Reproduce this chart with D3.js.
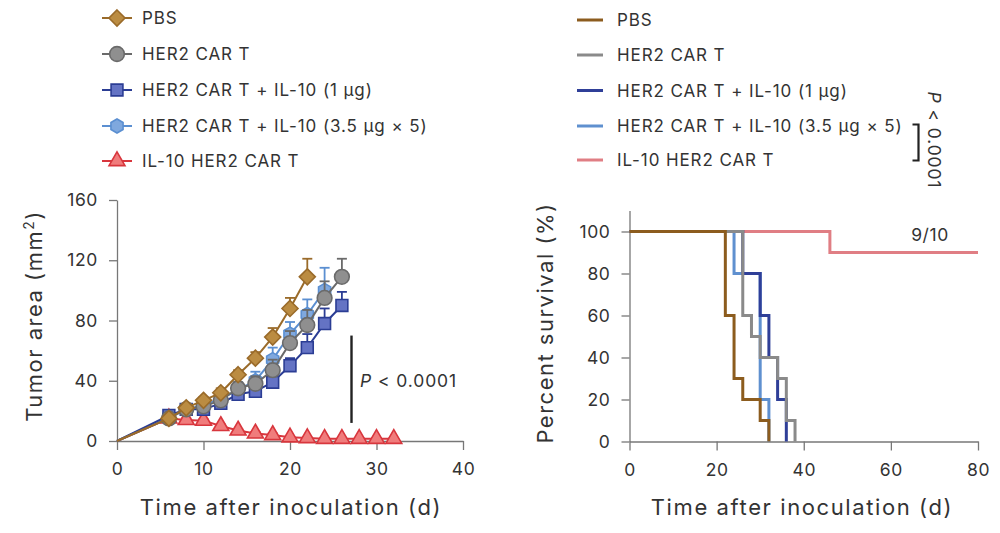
<!DOCTYPE html>
<html><head><meta charset="utf-8">
<script src="https://cdn.jsdelivr.net/npm/d3@7"></script>
<style>body{margin:0;background:#fff;} text{font-family:Inter,"Noto Sans",sans-serif;fill:#333;}</style>
</head><body>
<svg id="c" width="1000" height="533"></svg>
<script>
// ---------- data ----------
const seriesNames = ["PBS","HER2 CAR T","HER2 CAR T + IL-10 (1 µg)","HER2 CAR T + IL-10 (3.5 µg × 5)","IL-10 HER2 CAR T"];
const pbsDays = [6,8,10,12,14,16,18,20,22];
const pbsMean = [15,22,27,32,44,55,69,88,109];
const pbsErr  = [1,2,2,3,3,4,6,7,12];
const carDays = [6,8,10,12,14,16,18,20,22,24,26];
const carMean = [15,21,23,27,35,38,47,65,77,95,109];
const carErr  = [1,2,2,3,4,5,7,8,10,11,12];
const il1Days = [6,8,10,12,14,16,18,20,22,24,26];
const il1Mean = [17,21,21,25,31,33,39,50,62,78,90];
const il1Err  = [1,2,2,2,3,3,4,5,9,10,9];
const il35Days = [6,8,10,12,14,16,18,20,22,24];
const il35Mean = [16,21,24,28,34,40,54,71,84,100];
const il35Err  = [1,2,2,3,5,6,8,8,10,15];
const redDays = [6,8,10,12,14,16,18,20,22,24,26,28,30,32];
const redMean = [15,14,13.5,10,7,5,4,2.5,2,1.5,1.5,1.5,1.5,1.5];
const redErr  = [1,1,1,1,1,1,1,0.5,0.5,0.5,0.5,0.5,0.5,0.5];

const leftXTicks = [0,10,20,30,40];
const leftYTicks = [0,40,80,120,160];
const rightXTicks = [0,20,40,60,80];
const rightYTicks = [0,20,40,60,80,100];

const survPbsT = [0,22,24,26,30,32],    survPbsV = [100,60,30,20,10,0];
const survCarT = [0,26,28,30,34,36,38], survCarV = [100,60,50,40,30,10,0];
const survIl1T = [0,26,30,32,34,36],    survIl1V = [100,80,60,40,20,0];
const survIl35T = [0,24,30,32],         survIl35V = [100,80,20,0];
const survRedT = [0,46,80],             survRedV = [100,90,90];

// ---------- styles ----------
const styles = [
  {stroke:"#9a6b2a", fill:"#bb8c42", sym:"diamond", size:8, surv:"#8c5c1e"},
  {stroke:"#6a6a6a", fill:"#8f8f8f", sym:d3.symbolCircle, size:170, surv:"#8a8a8a"},
  {stroke:"#2b3d94", fill:"#6473c4", sym:d3.symbolSquare, size:140, surv:"#2f3f98"},
  {stroke:"#5b8fd1", fill:"#7fa8de", sym:"hex", size:7, surv:"#5f90cf"},
  {stroke:"#d8363d", fill:"#f07c7c", sym:d3.symbolTriangle, size:110, surv:"#e07e84"}
];
function hexPath(r){const p=[];for(let i=0;i<6;i++){const a=Math.PI/6+i*Math.PI/3;p.push([r*Math.cos(a),r*Math.sin(a)]);}return "M"+p.map(q=>q.join(",")).join("L")+"Z";}
function symPath(s){
  if(s.sym==="hex") return hexPath(s.size);
  if(s.sym==="diamond"){const r=s.size;return `M0,${-r}L${r},0L0,${r}L${-r},0Z`;}
  return d3.symbol(s.sym,s.size)();
}

const svg = d3.select("#c");
const axisColor = "#777";
function styleAxis(a){
  a.selectAll("path,line").attr("stroke",axisColor).attr("stroke-width",1.3);
  a.selectAll("text").style("font-size","17.5px").style("letter-spacing","0.6px").attr("fill","#333");
}

// ---------- left chart ----------
const xL = d3.scaleLinear([0,40],[117,463]);
const yL = d3.scaleLinear([0,160],[441,200]);
const gL = svg.append("g");

const axL_x = gL.append("g").attr("transform","translate(0,441)")
  .call(d3.axisBottom(xL).tickValues(leftXTicks).tickSize(9).tickPadding(13).tickSizeOuter(0));
const axL_y = gL.append("g").attr("transform","translate(117,0)")
  .call(d3.axisLeft(yL).tickValues(leftYTicks).tickSize(8).tickPadding(11).tickSizeOuter(0));
styleAxis(axL_x); styleAxis(axL_y);

const leftData = [
  {days:pbsDays, mean:pbsMean, err:pbsErr, i:0},
  {days:carDays, mean:carMean, err:carErr, i:1},
  {days:il1Days, mean:il1Mean, err:il1Err, i:2},
  {days:il35Days, mean:il35Mean, err:il35Err, i:3},
  {days:redDays, mean:redMean, err:redErr, i:4}
];
const drawOrder = [4,3,2,1,0];
const line = d3.line().x(d=>xL(d[0])).y(d=>yL(d[1]));
drawOrder.forEach(k=>{
  const s = leftData[k], st = styles[s.i];
  const pts = [[0,0]].concat(s.days.map((d,j)=>[d,s.mean[j]]));
  const g = gL.append("g");
  s.days.forEach((d,j)=>{
    const x = xL(d), y0 = yL(s.mean[j]), y1 = yL(s.mean[j]+s.err[j]);
    g.append("line").attr("x1",x).attr("x2",x).attr("y1",y0).attr("y2",y1).attr("stroke",st.stroke).attr("stroke-width",1.8);
    g.append("line").attr("x1",x-5).attr("x2",x+5).attr("y1",y1).attr("y2",y1).attr("stroke",st.stroke).attr("stroke-width",1.8);
  });
  g.append("path").attr("d",line(pts)).attr("fill","none").attr("stroke",st.stroke).attr("stroke-width",2);
  s.days.forEach((d,j)=>{
    g.append("path").attr("d",symPath(st)).attr("transform",`translate(${xL(d)},${yL(s.mean[j])})`)
      .attr("fill",st.fill).attr("stroke",st.stroke).attr("stroke-width",1.6);
  });
});
// P-value bar
gL.append("line").attr("x1",351.5).attr("x2",351.5).attr("y1",yL(70)).attr("y2",yL(12)).attr("stroke","#222").attr("stroke-width",2.4);
const pt = gL.append("text").attr("x",360).attr("y",387).style("font-size","17.5px").style("letter-spacing","0.9px");
pt.append("tspan").attr("font-style","italic").text("P");
pt.append("tspan").text(" < 0.0001");

gL.append("text").attr("x",291).attr("y",515).attr("text-anchor","middle").style("font-size","22px").style("letter-spacing","1.6px").text("Time after inoculation (d)");
const ty = gL.append("text").attr("transform","translate(42,316) rotate(-90)").attr("text-anchor","middle").style("font-size","22px").style("letter-spacing","1.5px");
ty.append("tspan").text("Tumor area (mm");
ty.append("tspan").attr("dy","-8").style("font-size","14px").text("2");
ty.append("tspan").attr("dy","8").text(")");

// left legend
const legYs = [18,54,90,126,161];
styles.forEach((st,i)=>{
  const y = legYs[i];
  svg.append("line").attr("x1",102).attr("x2",132).attr("y1",y).attr("y2",y).attr("stroke",st.stroke).attr("stroke-width",2);
  svg.append("path").attr("d",symPath(st)).attr("transform",`translate(117,${y})`).attr("fill",st.fill).attr("stroke",st.stroke).attr("stroke-width",1.6);
  svg.append("text").attr("x",142).attr("y",y+6).style("font-size","17px").style("letter-spacing","0.9px").text(seriesNames[i]);
});

// ---------- right chart ----------
const xR = d3.scaleLinear([0,80],[629.5,978]);
const yR = d3.scaleLinear([0,110],[441.5,210.5]);
const gR = svg.append("g");
const axR_x = gR.append("g").attr("transform","translate(0,441.5)")
  .call(d3.axisBottom(xR).tickValues(rightXTicks).tickSize(9).tickPadding(13).tickSizeOuter(0));
const axR_y = gR.append("g").attr("transform","translate(629.5,0)")
  .call(d3.axisLeft(yR).tickValues(rightYTicks).tickSize(8).tickPadding(11).tickSizeOuter(0));
styleAxis(axR_x); styleAxis(axR_y);

const survData = [
  {t:survPbsT, v:survPbsV, i:0},
  {t:survCarT, v:survCarV, i:1},
  {t:survIl1T, v:survIl1V, i:2},
  {t:survIl35T, v:survIl35V, i:3},
  {t:survRedT, v:survRedV, i:4}
];
const stepLine = d3.line().curve(d3.curveStepAfter).x(d=>xR(d[0])).y(d=>yR(d[1]));
[4,3,2,1,0].forEach(k=>{
  const s = survData[k];
  const pts = s.t.map((t,j)=>[t,s.v[j]]);
  gR.append("path").attr("d",stepLine(pts)).attr("fill","none").attr("stroke",styles[s.i].surv).attr("stroke-width",3);
});
gR.append("text").attr("x",930).attr("y",241).attr("text-anchor","middle").style("font-size","17.5px").style("letter-spacing","0.6px").text("9/10");
gR.append("text").attr("x",802).attr("y",515).attr("text-anchor","middle").style("font-size","22px").style("letter-spacing","1.6px").text("Time after inoculation (d)");
gR.append("text").attr("transform","translate(553,323) rotate(-90)").attr("text-anchor","middle").style("font-size","22px").style("letter-spacing","1.5px").text("Percent survival (%)");

// right legend
styles.forEach((st,i)=>{
  const y = [20,55,90.5,126,160][i];
  svg.append("line").attr("x1",577).attr("x2",603).attr("y1",y).attr("y2",y).attr("stroke",st.surv).attr("stroke-width",3);
  svg.append("text").attr("x",617).attr("y",y+6).style("font-size","17px").style("letter-spacing","0.9px").text(seriesNames[i]);
});
// bracket
svg.append("path").attr("d","M912.5,124.5H918.5V160.5H912.5").attr("fill","none").attr("stroke","#222").attr("stroke-width",2.2);
const rp = svg.append("text").attr("transform","translate(928,140) rotate(90)").attr("text-anchor","middle").style("font-size","17.5px").style("letter-spacing","0.9px");
rp.append("tspan").attr("font-style","italic").text("P");
rp.append("tspan").text(" < 0.0001");
</script>
</body></html>
